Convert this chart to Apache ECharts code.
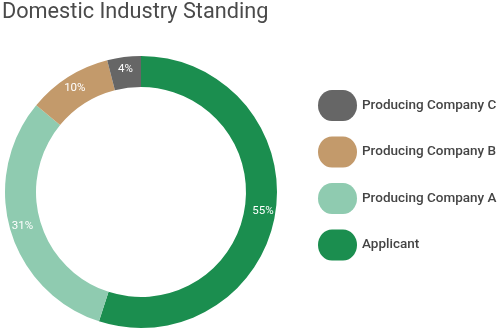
<!DOCTYPE html>
<html><head><meta charset="utf-8">
<script src="https://cdn.jsdelivr.net/npm/echarts@6/dist/echarts.min.js"></script>
<style>html,body{margin:0;padding:0;background:#fff}#c{width:500px;height:328px}</style>
</head><body><div id="c"></div>
<script>
const names = ['Applicant', 'Producing Company A', 'Producing Company B', 'Producing Company C'];
const values = [55, 31, 10, 4];
const colors = ['#1b8e4f', '#8fcbb0', '#c39a6b', '#666666'];
const legendOrder = ['Producing Company C', 'Producing Company B', 'Producing Company A', 'Applicant'];

const chart = echarts.init(document.getElementById('c'), null, {renderer: 'canvas'});
chart.setOption({
  animation: false,
  title: {
    text: 'Domestic Industry Standing',
    left: -3, top: -3,
    textStyle: {fontFamily: 'Roboto', fontSize: 21.7, fontWeight: 'normal', color: '#4a4a4a'}
  },
  legend: {
    orient: 'vertical',
    left: 313, top: 85,
    itemWidth: 39, itemHeight: 31, itemGap: 15.5,
    icon: 'path://M14,0 H25 A14,15.5 0 0 1 39,15.5 A14,15.5 0 0 1 25,31 H14 A14,15.5 0 0 1 0,15.5 A14,15.5 0 0 1 14,0 Z',
    data: legendOrder,
    textStyle: {fontFamily: 'Roboto', fontSize: 13.5, fontWeight: 500, color: '#444', padding: [0, 0, 0, 0]}
  },
  series: [{
    type: 'pie',
    center: [141, 192],
    radius: [105, 136],
    startAngle: 90,
    clockwise: true,
    label: {
      position: 'inside',
      formatter: '{c}%',
      color: '#fff',
      fontFamily: 'Roboto',
      fontSize: 11.5
    },
    labelLine: {show: false},
    emphasis: {disabled: true},
    data: names.map((n, i) => ({name: n, value: values[i], itemStyle: {color: colors[i]}}))
  }]
});
</script></body></html>
